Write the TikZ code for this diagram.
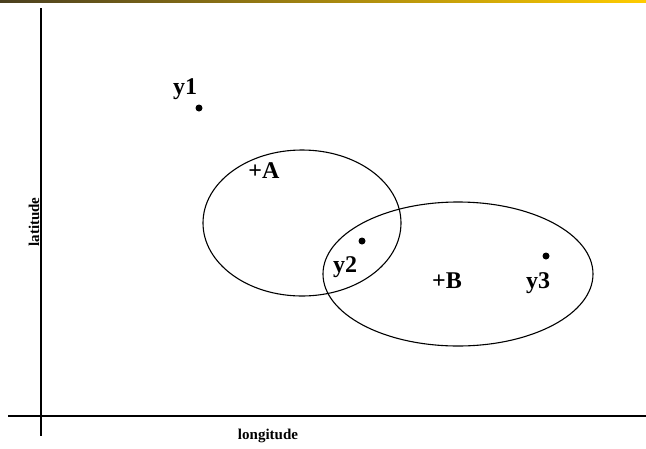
\documentclass[tikz,border=0pt]{standalone}
\usepackage{fontspec}
\setmainfont{Liberation Serif}
\usetikzlibrary{positioning}
\definecolor{barleft}{HTML}{4A3F1F}
\definecolor{barright}{HTML}{FFCC00}

\begin{document}
\begin{tikzpicture}[x=1pt, y=-1pt,
  axis/.style={line width=1.3pt},
  region/.style={draw, line width=1.1pt},
  pt/.style={circle, fill, inner sep=0pt, minimum size=7pt},
  lbl/.style={font=\bfseries\fontsize{24}{26}\selectfont, inner sep=0pt},
  axlbl/.style={font=\bfseries\fontsize{15}{17}\selectfont, inner sep=0pt}
]
\useasboundingbox (0,0) rectangle (646,448);
\shade[left color=barleft, right color=barright] (0,0) rectangle (646,2.5);
% axes
\coordinate (ytop) at (41,8);
\coordinate (ybot) at (41,436);
\coordinate (xleft) at (8,416);
\coordinate (xright) at (646,416);
\draw[axis] (ytop) -- (ybot);
\draw[axis] (xleft) -- (xright);
\node[axlbl, rotate=90] (lat) at (34,222) {latitude};
\node[axlbl] (lon) at (268,436) {longitude};
% regions
\draw[region] (302,223) ellipse [x radius=99, y radius=73];
\draw[region] (458,274) ellipse [x radius=135, y radius=72];
\node[lbl] (A) at (264,171) {+A};
\node[lbl] (B) at (447,281) {+B};
% points
\node[pt] (p1) at (199,108) {};
\node[lbl] (y1) at (185,89) {y1};
\node[pt] (p2) at (362,241) {};
\node[lbl] (y2) at (345,267) {y2};
\node[pt] (p3) at (546,256) {};
\node[lbl] (y3) at (538,283) {y3};
\end{tikzpicture}
\end{document}
